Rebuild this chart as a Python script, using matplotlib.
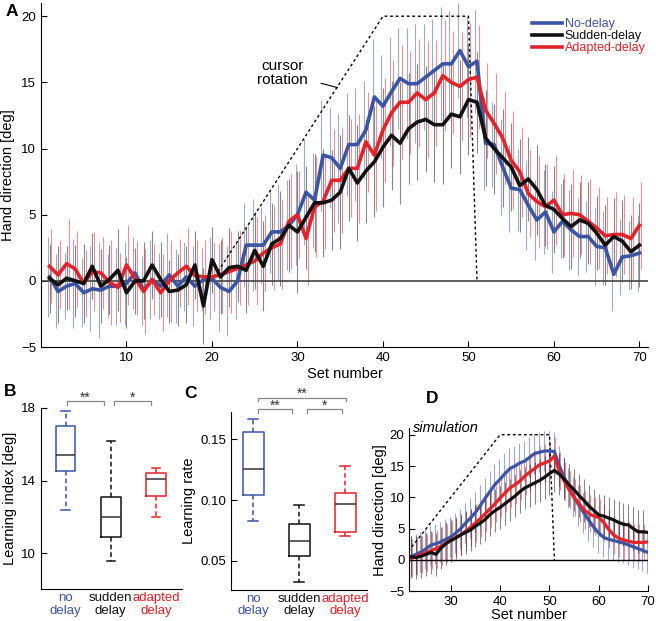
import matplotlib.pyplot as plt
import numpy as np

plt.rcParams['font.family'] = ['Liberation Sans', 'DejaVu Sans']
plt.rcParams['font.size'] = 10

# ---- panel A data: mean hand direction per set (deg) and SEM
sets = np.arange(1, 71)
no_delay = [0.3, -0.8, -0.4, -0.2, -0.9, -0.6, -0.7, -0.4, -0.4, -0.2,
            0.6, -0.7, 0.1, -0.4, 0.45, -0.4, 0.3, -0.4, 0.1, 0.2,
            -0.5, -0.8, 0.0, 2.7, 2.7, 2.7, 3.7, 3.7, 4.2, 5.0,
            6.7, 6.1, 9.5, 9.3, 8.5, 10.3, 10.3, 11.4, 13.9, 13.2,
            14.3, 15.3, 14.9, 14.9, 15.4, 15.9, 16.4, 16.4, 17.4, 16.2,
            16.6, 10.4, 10.3, 8.6, 7.0, 6.9, 5.7, 4.6, 5.2, 3.7,
            4.5, 3.85, 3.35, 3.35, 2.6, 2.5, 0.5, 1.8, 1.9, 2.1]
sudden_delay = [0.2, -0.3, 0.2, 0.0, -0.2, 1.1, -0.4, 0.1, 0.8, -0.9,
                0.0, 0.0, 1.2, 0.1, -0.8, -0.7, -0.3, 1.2, -1.9, 1.6,
                0.3, 1.0, 1.1, 0.8, 2.3, 1.1, 2.8, 3.2, 4.2, 3.7,
                4.8, 5.9, 5.9, 6.1, 6.7, 8.5, 7.4, 8.3, 9.0, 10.1,
                11.0, 10.4, 11.5, 12.0, 12.2, 11.8, 11.8, 12.6, 12.4, 13.7,
                13.5, 10.8, 10.0, 9.3, 8.6, 7.2, 7.7, 6.9, 5.7, 5.4,
                4.7, 4.1, 4.6, 4.35, 3.6, 2.7, 3.35, 3.0, 2.2, 2.7]
adapted_delay = [1.1, 0.45, 1.3, 0.9, -0.2, 0.7, 0.6, -0.1, -0.5, 1.2,
                 0.2, -0.8, 0.1, -0.9, 0.0, 0.6, 1.1, 0.4, 0.3, 0.3,
                 0.45, 0.7, 0.95, 1.2, 1.5, 2.1, 2.5, 2.8, 4.5, 5.0,
                 3.2, 5.6, 6.0, 7.6, 7.6, 8.5, 8.5, 10.5, 9.5, 11.4,
                 12.7, 13.5, 13.5, 14.2, 13.7, 14.2, 15.5, 15.0, 14.7, 15.2,
                 15.4, 12.9, 11.9, 10.8, 9.1, 8.25, 6.6, 6.0, 5.6, 6.1,
                 5.0, 5.1, 5.0, 4.5, 4.0, 3.4, 3.5, 3.5, 3.2, 4.2]
no_delay_err = [3.0, 2.8, 2.5, 3.4, 2.6, 3.2, 3.6, 2.4, 2.9, 3.1,
                2.7, 2.6, 3.0, 2.5, 3.2, 2.8, 2.6, 3.0, 2.4, 3.1,
                3.3, 3.4, 2.9, 3.2, 3.5, 2.9, 3.1, 3.6, 3.4, 3.8,
                4.0, 3.6, 4.2, 3.8, 4.1, 3.9, 4.3, 3.7, 4.4, 3.9,
                4.1, 3.8, 4.2, 4.5, 4.0, 3.9, 4.3, 4.0, 3.6, 3.8,
                3.9, 3.5, 3.2, 3.6, 3.3, 3.1, 3.4, 3.0, 3.2, 3.1,
                2.8, 3.0, 2.9, 2.7, 3.0, 2.8, 2.8, 2.9, 2.6, 2.9]
sudden_delay_err = [2.6, 2.9, 2.4, 2.7, 3.0, 2.5, 2.8, 2.6, 3.1, 2.7,
                    2.5, 2.9, 2.6, 2.8, 2.4, 2.7, 2.9, 2.6, 2.9, 2.5,
                    2.8, 3.0, 2.7, 3.2, 2.9, 3.4, 3.1, 3.6, 3.5, 4.6,
                    3.9, 3.7, 4.1, 3.8, 4.3, 4.0, 4.4, 3.9, 4.2, 4.5,
                    4.1, 4.6, 4.2, 4.4, 4.0, 4.3, 4.5, 4.1, 4.3, 4.2,
                    3.8, 3.6, 3.4, 3.7, 3.3, 3.5, 3.2, 3.4, 3.1, 3.3,
                    3.0, 3.2, 2.9, 3.1, 2.8, 3.0, 2.9, 3.1, 2.8, 3.2]
adapted_delay_err = [2.8, 2.6, 3.4, 2.9, 2.5, 3.0, 2.7, 3.2, 2.6, 3.0,
                     2.8, 3.2, 2.7, 2.9, 3.1, 2.6, 2.9, 2.7, 2.8, 2.6,
                     2.9, 3.1, 2.8, 3.0, 3.3, 2.9, 3.2, 3.4, 3.6, 3.3,
                     3.5, 3.8, 3.6, 3.9, 4.0, 3.7, 4.1, 3.8, 4.2, 3.9,
                     4.0, 4.3, 3.9, 4.1, 4.4, 4.0, 4.2, 3.9, 4.1, 4.3,
                     3.9, 3.6, 3.8, 3.5, 3.7, 3.4, 3.3, 3.5, 3.2, 3.4,
                     3.1, 3.3, 3.0, 3.2, 3.1, 2.9, 3.2, 3.0, 3.1, 3.3]
rot_x = [20, 40, 50, 51]
rot_y = [0, 20, 20, 0]

# ---- panels B and C: box plot summaries (whislo, q1, med, q3, whishi)
groups = ['no\ndelay', 'sudden\ndelay', 'adapted\ndelay']
learn_index = [[12.37, 14.5, 15.39, 17.03, 17.83],
               [9.54, 10.9, 12.0, 13.1, 16.17],
               [12.0, 13.17, 14.09, 14.39, 14.68]]
learn_rate = [[0.0828, 0.1044, 0.1258, 0.1558, 0.1667],
              [0.0329, 0.0538, 0.0664, 0.0804, 0.0957],
              [0.0702, 0.0740, 0.0970, 0.1061, 0.1280]]

# ---- panel D: simulation
sim_sets = np.arange(22, 71)
sim_no_delay = [0.6, 0.9, 1.3, 1.8, 2.4, 2.6, 2.9, 3.3, 3.7, 4.3,
                5.0, 5.9, 6.7, 7.6, 8.7, 9.9, 11.0, 12.1, 12.9, 13.8,
                14.6, 15.0, 15.5, 15.8, 16.4, 17.0, 17.2, 17.4, 17.4, 17.3,
                15.0, 13.2, 11.5, 10.0, 8.7, 7.5, 6.3, 5.2, 4.3, 3.6,
                3.3, 3.1, 2.9, 2.7, 2.4, 2.1, 1.8, 1.5, 1.2]
sim_sudden = [0.5, 0.4, 0.6, 0.9, 1.2, 0.9, 1.9, 2.6, 3.1, 3.5,
              4.0, 4.4, 4.8, 5.4, 5.9, 6.5, 7.3, 7.9, 8.4, 9.0,
              9.6, 10.2, 10.9, 11.5, 11.9, 12.3, 12.7, 13.2, 13.8, 14.3,
              13.7, 12.9, 12.0, 11.2, 10.3, 9.5, 8.6, 7.9, 7.2, 7.0,
              6.7, 6.4, 6.0, 5.7, 5.6, 5.0, 4.5, 4.5, 4.4]
sim_adapted = [0.3, 0.6, 0.9, 1.2, 1.5, 1.8, 2.2, 2.7, 3.2, 3.6,
               4.0, 4.6, 5.2, 5.9, 6.6, 7.4, 8.2, 9.0, 9.9, 10.7,
               11.5, 12.0, 12.6, 13.4, 14.0, 14.6, 15.2, 15.5, 15.8, 16.6,
               14.2, 12.6, 11.2, 10.0, 9.0, 8.0, 7.4, 7.0, 6.8, 6.0,
               4.9, 4.0, 3.5, 3.2, 3.0, 2.8, 2.8, 2.8, 2.9]
sim_err = {'no': 3.2, 'sudden': 3.4, 'adapted': 3.0}

BLUE = '#3a55a4'
RED = '#e3222a'
BLACK = '#111111'

fig = plt.figure(figsize=(6.56, 6.21), dpi=100)


def style(ax):
    for s in ['top', 'right']:
        ax.spines[s].set_visible(False)
    ax.tick_params(direction='in', length=4, labelsize=9.5)


# ===================== A
axA = fig.add_axes([0.0625, 0.4412, 0.9253, 0.554])
style(axA)
series = [(no_delay, no_delay_err, BLUE, 'No-delay', -0.22),
          (adapted_delay, adapted_delay_err, RED, 'Adapted-delay', 0.22),
          (sudden_delay, sudden_delay_err, BLACK, 'Sudden-delay', 0.0)]
for y, e, c, lab, off in series:
    axA.errorbar(sets + off, y, yerr=e, fmt='none', ecolor=c,
                 elinewidth=0.8, alpha=0.5, zorder=1)
axA.axhline(0, color='#444444', lw=1.2, zorder=2)
handles = {}
for y, e, c, lab, off in series:
    handles[lab], = axA.plot(sets, y, color=c, lw=2.6, zorder=3, label=lab)
axA.plot(rot_x, rot_y, ls=(0, (2, 2)), color='black', lw=1.0, zorder=2)
axA.annotate('cursor\nrotation', xy=(34.7, 14.6), xytext=(28.2, 15.7),
             ha='center', va='center', fontsize=11, linespacing=1.0,
             arrowprops=dict(arrowstyle='-', color='black', lw=0.8,
                             shrinkA=8, shrinkB=0))
leg = axA.legend([handles['No-delay'], handles['Sudden-delay'], handles['Adapted-delay']],
                 ['No-delay', 'Sudden-delay', 'Adapted-delay'],
                 loc='upper left', bbox_to_anchor=(0.8, 0.97), frameon=False,
                 handlelength=2.4, handletextpad=0.25, labelspacing=0.0,
                 fontsize=9, labelcolor='linecolor', borderaxespad=0)
axA.set_xlim(0, 71)
axA.set_ylim(-5, 21)
axA.set_xticks([10, 20, 30, 40, 50, 60, 70])
axA.set_yticks([-5, 0, 5, 10, 15, 20])
axA.set_xlabel('Set number', fontsize=10.5, labelpad=2)
axA.set_ylabel('Hand direction [deg]', fontsize=10.5, labelpad=4)

colors = [BLUE, BLACK, RED]


def boxes(ax, summary, ylim, yticks, width, capw):
    stats = [dict(whislo=s[0], q1=s[1], med=s[2], q3=s[3], whishi=s[4], fliers=[])
             for s in summary]
    bp = ax.bxp(stats, positions=[1, 2, 3], widths=width, showfliers=False,
                capwidths=capw)
    for i, c in enumerate(colors):
        bp['boxes'][i].set(color=c, lw=1.1)
        bp['medians'][i].set(color='#333333', lw=1.1)
        for k in (2 * i, 2 * i + 1):
            bp['whiskers'][k].set(color=c, ls=(0, (3, 2)), lw=1.1)
            bp['caps'][k].set(color=c, lw=1.1)
    ax.set_ylim(*ylim)
    ax.set_yticks(yticks)
    ax.set_xticks([1, 2, 3], groups)
    ax.tick_params(axis='x', length=0, pad=2, labelsize=9.5)
    for lbl, c in zip(ax.get_xticklabels(), colors):
        lbl.set_color(c)
        lbl.set_linespacing(1.05)


def bracket(ax, x0, x1, y, h, dy, txt):
    ax.plot([x0, x0, x1, x1], [y - h, y, y, y - h], color='#888888', lw=0.9,
            clip_on=False)
    ax.text((x0 + x1) / 2, y + dy, txt, ha='center', va='center', fontsize=10,
            color='#333333', clip_on=False)


# ===================== B
axB = fig.add_axes([0.062, 0.051, 0.215, 0.292])
style(axB)
boxes(axB, learn_index, (8, 18), [10, 14, 18], 0.44, 0.18)
axB.set_xlim(0.45, 3.57)
axB.set_ylabel('Learning index [deg]', fontsize=10.5, labelpad=3)
bracket(axB, 1.04, 1.85, 18.37, 0.22, 0.2, '**')
bracket(axB, 2.07, 2.9, 18.37, 0.22, 0.2, '*')

# ===================== C
axC = fig.add_axes([0.352, 0.05, 0.207, 0.287])
style(axC)
boxes(axC, learn_rate, (0.026, 0.1727), [0.05, 0.10, 0.15], 0.46, 0.22)
axC.set_yticklabels(['0.05', '0.10', '0.15'])
axC.set_xlim(0.515, 3.47)
axC.set_ylabel('Learning rate', fontsize=10.5, labelpad=3)
bracket(axC, 1.11, 1.85, 0.1747, 0.0028, 0.003, '**')
bracket(axC, 2.18, 2.94, 0.1747, 0.0028, 0.003, '*')
bracket(axC, 1.11, 3.01, 0.1842, 0.0028, 0.003, '**')

# ===================== D
axD = fig.add_axes([0.624, 0.0478, 0.364, 0.2623])
style(axD)
sim = [(sim_no_delay, sim_err['no'], BLUE, -0.15),
       (sim_adapted, sim_err['adapted'], RED, 0.15),
       (sim_sudden, sim_err['sudden'], BLACK, 0.0)]
for y, e, c, off in sim:
    axD.errorbar(sim_sets + off, y, yerr=e, fmt='none', ecolor=c,
                 elinewidth=0.8, alpha=0.5, zorder=1)
axD.axhline(0, color='black', lw=1.0, zorder=2)
for y, e, c, off in sim:
    axD.plot(sim_sets, y, color=c, lw=2.3, zorder=3)
axD.plot(rot_x, rot_y, ls=(0, (2, 2)), color='black', lw=1.0, zorder=2)
axD.text(22.3, 21.0, 'simulation', style='italic', fontsize=10.5,
         ha='left', va='center')
axD.set_xlim(21.6, 70)
axD.set_ylim(-5, 21)
axD.set_xticks([30, 40, 50, 60, 70])
axD.set_yticks([-5, 0, 5, 10, 15, 20])
axD.set_xlabel('Set number', fontsize=10.5, labelpad=0)
axD.set_ylabel('Hand direction [deg]', fontsize=10.5, labelpad=2)

for lab, x, y in [('A', 0.018, 0.981), ('B', 0.015, 0.369),
                  ('C', 0.291, 0.367), ('D', 0.659, 0.359)]:
    fig.text(x, y, lab, fontsize=12.5, fontweight='bold', ha='center', va='center')

fig.savefig('out.png', dpi=100)
